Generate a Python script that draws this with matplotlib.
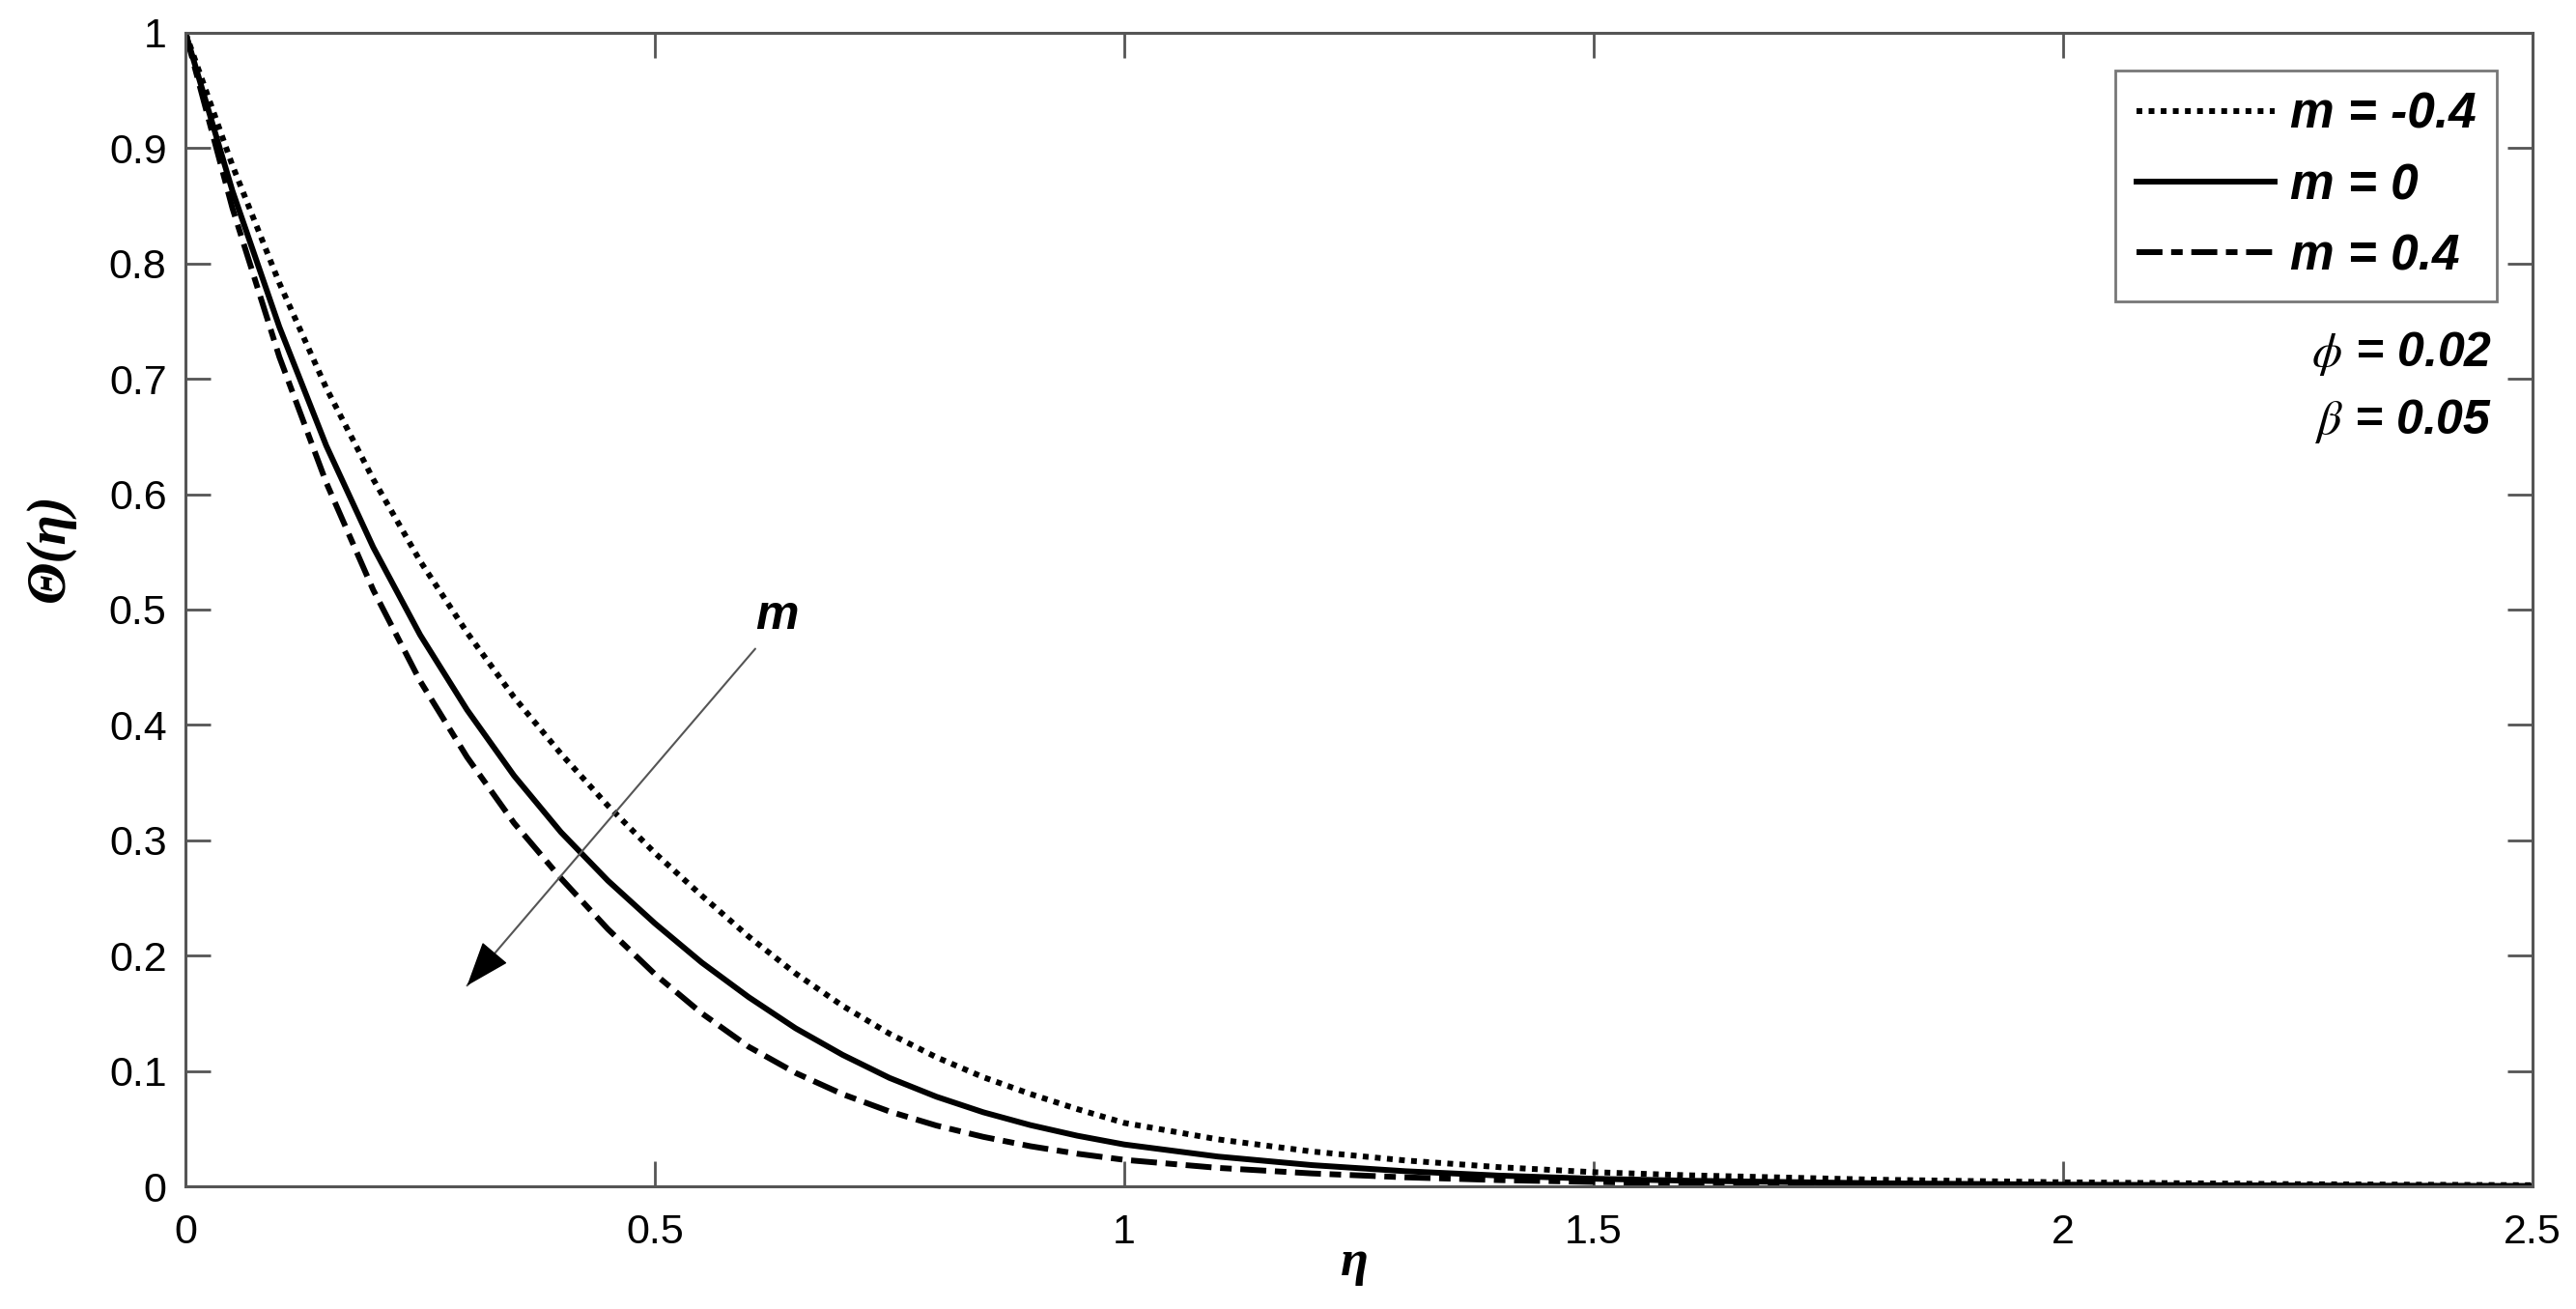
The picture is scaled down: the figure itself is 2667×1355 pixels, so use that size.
import matplotlib
matplotlib.use("Agg")
import matplotlib.pyplot as plt

# ---- data ----
eta = [0.0, 0.05, 0.1, 0.15, 0.2, 0.25, 0.3, 0.35, 0.4, 0.45, 0.5, 0.55, 0.6, 0.65, 0.7,
       0.75, 0.8, 0.85, 0.9, 0.95, 1.0, 1.1, 1.2, 1.3, 1.4, 1.5, 1.6, 1.8, 2.0, 2.25, 2.5]
theta_m_neg04 = [1.0, 0.885, 0.783, 0.692, 0.613, 0.542, 0.480, 0.424, 0.375, 0.330, 0.289,
                 0.252, 0.2165, 0.1845, 0.1565, 0.1323, 0.1119, 0.0946, 0.0801, 0.067, 0.055,
                 0.0407, 0.0302, 0.0224, 0.0166, 0.0123, 0.0096, 0.0058, 0.0035, 0.0019, 0.001]
theta_m_0 = [1.0, 0.863, 0.745, 0.642, 0.554, 0.478, 0.413, 0.356, 0.307, 0.265, 0.228,
             0.194, 0.164, 0.137, 0.114, 0.094, 0.0777, 0.0642, 0.0531, 0.0439, 0.0363,
             0.0258, 0.0184, 0.0131, 0.0093, 0.0066, 0.0049, 0.0027, 0.0015, 0.0007, 0.0003]
theta_m_04 = [1.0, 0.848, 0.719, 0.610, 0.517, 0.438, 0.372, 0.315, 0.267, 0.223, 0.184,
              0.150, 0.121, 0.0983, 0.0799, 0.0649, 0.0527, 0.0429, 0.0348, 0.0283, 0.0230,
              0.0160, 0.0112, 0.0078, 0.0054, 0.0038, 0.0026, 0.0013, 0.0006, 0.0002, 0.0001]
labels = ["m = -0.4", "m = 0", "m = 0.4"]
xticks = [0, 0.5, 1, 1.5, 2, 2.5]
xtick_labels = ["0", "0.5", "1", "1.5", "2", "2.5"]
yticks = [0, 0.1, 0.2, 0.3, 0.4, 0.5, 0.6, 0.7, 0.8, 0.9, 1.0]
ytick_labels = ["0", "0.1", "0.2", "0.3", "0.4", "0.5", "0.6", "0.7", "0.8", "0.9", "1"]
param_texts = [r"$\phi$ = 0.02", r"$\beta$ = 0.05"]

plt.rcParams["mathtext.fontset"] = "stix"

fig = plt.figure(figsize=(26.67, 13.55), dpi=100)
ax = fig.add_axes([0.072, 0.0937, 0.911, 0.8813])

lw = 4.3
ax.plot(eta, theta_m_neg04, color="black", lw=lw, linestyle=(0, (1, 1.1)),
        dash_capstyle="butt", label=labels[0])
ax.plot(eta, theta_m_0, color="black", lw=lw, linestyle="-", label=labels[1])
ax.plot(eta, theta_m_04, color="black", lw=lw, linestyle=(0, (4.5, 1.5, 2.0, 1.5)),
        dash_capstyle="butt", label=labels[2])

ax.set_xlim(0, 2.5)
ax.set_ylim(0, 1)
ax.set_xticks(xticks)
ax.set_xticklabels(xtick_labels)
ax.set_yticks(yticks)
ax.set_yticklabels(ytick_labels)

spine_col = "#555555"
for s in ax.spines.values():
    s.set_color(spine_col)
    s.set_linewidth(2.2)
ax.tick_params(direction="in", length=19, width=2.0, color=spine_col,
               top=True, right=True, labelsize=31, labelcolor="black")
ax.tick_params(axis="x", pad=20)
ax.tick_params(axis="y", pad=14)
for t in ax.get_xticklabels() + ax.get_yticklabels():
    t.set_fontfamily("Liberation Sans")

ax.set_xlabel("η", fontsize=38, fontfamily="Liberation Serif", fontweight="bold",
              fontstyle="italic")
ax.xaxis.set_label_coords(0.498, -0.046)
ax.set_ylabel("Θ(η)", fontsize=41, fontfamily="Liberation Serif", fontweight="bold",
              fontstyle="italic")
ax.yaxis.set_label_coords(-0.047, 0.554)

leg = ax.legend(loc="upper right", bbox_to_anchor=(0.985, 0.967),
                prop=dict(family="Liberation Sans", weight="bold", style="italic", size=37),
                frameon=True, fancybox=False, handlelength=2.8, handletextpad=0.3,
                borderpad=0.42, labelspacing=0.47, borderaxespad=0.0)
leg.get_frame().set_edgecolor(spine_col)
leg.get_frame().set_linewidth(2.0)

text_kw = dict(family="Liberation Sans", weight="bold", style="italic", size=36,
               ha="right", va="center")
ax.text(2.457, 0.722, param_texts[0], **text_kw)
ax.text(2.457, 0.663, param_texts[1], **text_kw)

# annotation arrow: thin grey shaft, black head
ax.annotate("", xy=(0.300, 0.174), xytext=(0.607, 0.466),
            arrowprops=dict(arrowstyle="-", color="#555555", lw=1.5,
                            shrinkA=0, shrinkB=0))
ax.annotate("", xy=(0.300, 0.174), xytext=(0.328, 0.201),
            arrowprops=dict(arrowstyle="-|>,head_length=0.6,head_width=0.22",
                            color="black", lw=1.0, mutation_scale=50,
                            shrinkA=0, shrinkB=0))
ax.text(0.63, 0.494, "m", family="Liberation Sans", weight="bold", style="italic",
        size=36, ha="center", va="center")

fig.savefig("out.png", dpi=100)
